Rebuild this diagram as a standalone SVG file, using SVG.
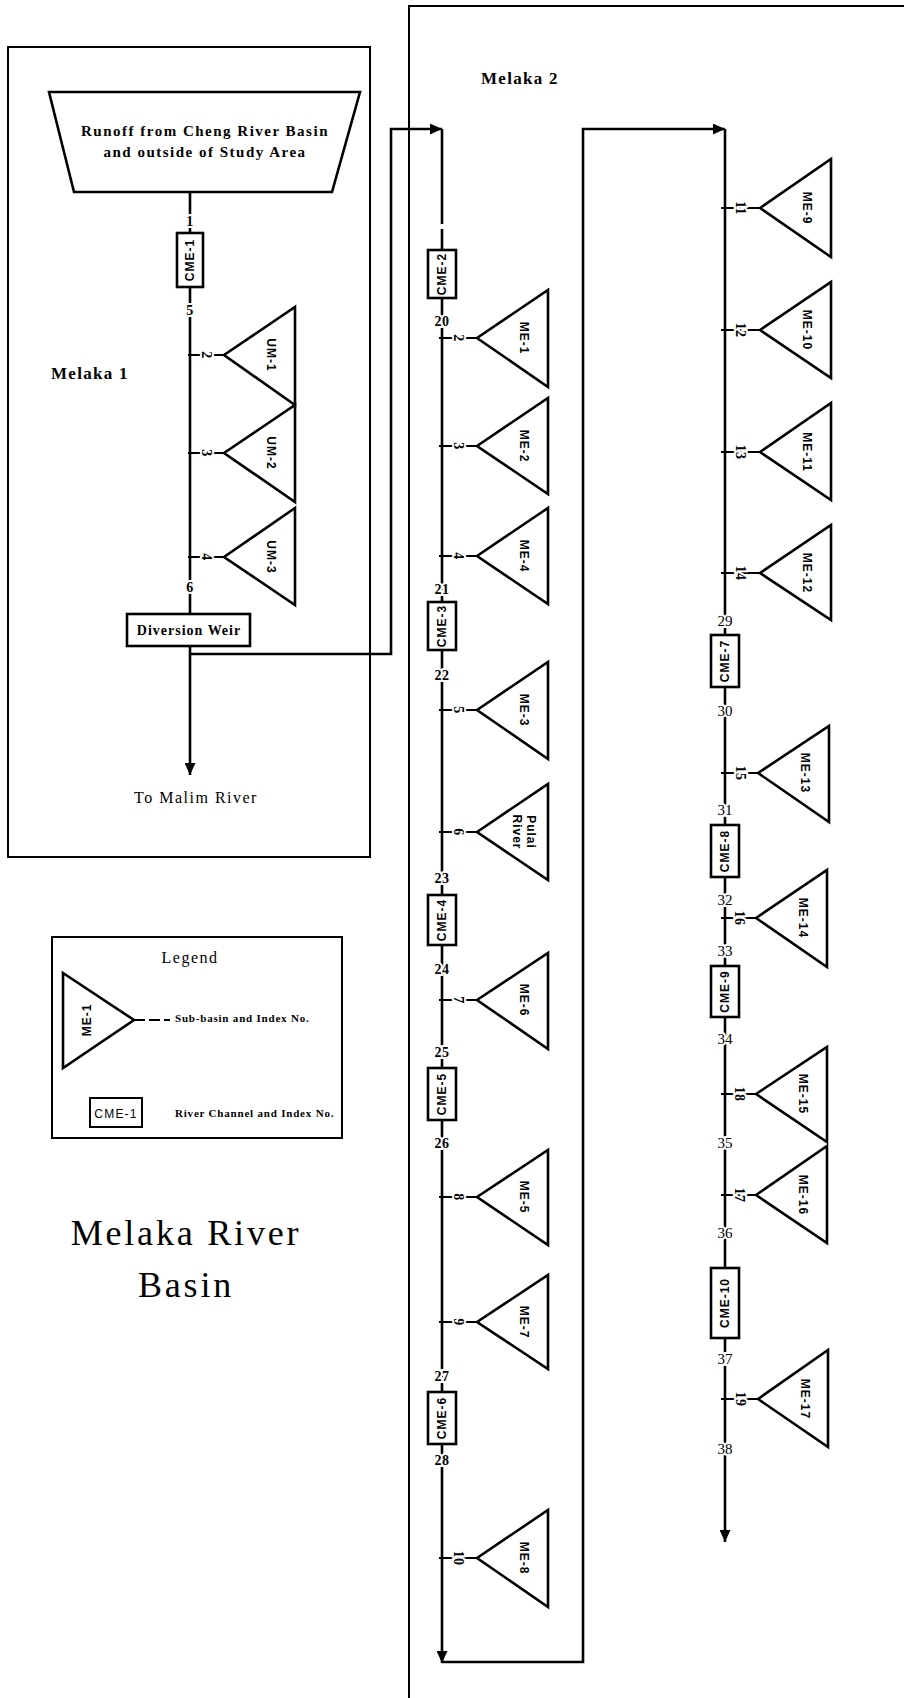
<svg xmlns="http://www.w3.org/2000/svg" width="904" height="1698" viewBox="0 0 904 1698">
<defs>
<style>
.frame{fill:none;stroke:#000;stroke-width:2}
.river{fill:none;stroke:#000;stroke-width:2.6}
.stub{fill:none;stroke:#000;stroke-width:2.2}
.tri{fill:#fff;stroke:#000;stroke-width:2.6;stroke-linejoin:miter}
.cme{fill:#fff;stroke:#000;stroke-width:2.6}
.lbl{font-family:"Liberation Sans",Arial,sans-serif;font-weight:bold;font-size:12px;letter-spacing:1px;text-anchor:middle;dominant-baseline:central;fill:#000}
.idx{font-family:"Liberation Serif","Times New Roman",serif;font-weight:bold;font-size:14px;letter-spacing:0.5px;text-anchor:middle;dominant-baseline:central;fill:#000;stroke:#fff;stroke-width:4;paint-order:stroke}
.nodeb{font-family:"Liberation Serif","Times New Roman",serif;font-weight:bold;font-size:14px;letter-spacing:0.5px;text-anchor:middle;dominant-baseline:central;fill:#000;stroke:#fff;stroke-width:4;paint-order:stroke}
.noder{font-family:"Liberation Serif","Times New Roman",serif;font-size:15px;text-anchor:middle;dominant-baseline:central;fill:#000;stroke:#fff;stroke-width:4;paint-order:stroke}
.title{font-family:"Liberation Serif","Times New Roman",serif;font-weight:bold;font-size:17px;letter-spacing:1.3px;fill:#000}
.txtb{font-family:"Liberation Serif","Times New Roman",serif;font-weight:bold;font-size:15px;letter-spacing:1.5px;text-anchor:middle;fill:#000}
.txtr{font-family:"Liberation Serif","Times New Roman",serif;font-size:16px;letter-spacing:1.5px;text-anchor:middle;fill:#000}
.leg{font-family:"Liberation Serif","Times New Roman",serif;font-weight:bold;font-size:11px;letter-spacing:0.8px;fill:#000}
.big{font-family:"Liberation Serif","Times New Roman",serif;font-size:36px;letter-spacing:2.8px;text-anchor:middle;fill:#000}
</style>
<marker id="arr" markerWidth="12" markerHeight="11" refX="12" refY="5.5" orient="auto" markerUnits="userSpaceOnUse">
<path d="M0,0 L12,5.5 L0,11 z" fill="#000"/>
</marker>
</defs>
<rect width="904" height="1698" fill="#fff"/>

<!-- Region frames -->
<g id="melaka1-frame"><rect class="frame" x="8" y="47" width="362" height="810"/>
<text class="title" x="51" y="379">Melaka 1</text></g>
<g id="melaka2-frame"><path class="frame" d="M409,1698 V6 H904"/>
<text class="title" x="481" y="84">Melaka 2</text></g>

<!-- Connectors -->
<g id="connectors">
<path class="river" d="M190,190 V775" marker-end="url(#arr)"/>
<path class="river" d="M190,654 H391 V129 H442" marker-end="url(#arr)"/>
<path class="river" d="M442,129 V224 M442,229 V1400"/>
<path class="river" d="M442,1400 V1663" marker-end="url(#arr)"/>
<path class="river" d="M442,1662 H583 V129 H725" marker-end="url(#arr)"/>
<path class="river" d="M725,129 V1542" marker-end="url(#arr)"/>
<!-- tributary stubs Melaka 1 -->
<path class="stub" d="M188,355 H224 M188,453 H224 M188,557 H224"/>
<!-- tributary stubs Melaka 2 left -->
<path class="stub" d="M439,338 H477 M439,446 H477 M439,556 H477 M439,710 H477 M439,832 H477 M439,1000 H477 M439,1197 H477 M439,1322 H477 M439,1558 H477"/>
<!-- tributary stubs Melaka 2 right -->
<path class="stub" d="M721,208 H760 M721,330 H760 M721,452 H760 M721,573 H760 M721,773 H758 M721,918 H756 M721,1094 H756 M721,1195 H756 M721,1399 H758"/>
<!-- index numbers on stubs -->
<text class="idx" transform="translate(206,355) rotate(90)">2</text>
<text class="idx" transform="translate(206,453) rotate(90)">3</text>
<text class="idx" transform="translate(206,557) rotate(90)">4</text>
<text class="idx" transform="translate(458,338) rotate(90)">2</text>
<text class="idx" transform="translate(458,446) rotate(90)">3</text>
<text class="idx" transform="translate(458,556) rotate(90)">4</text>
<text class="idx" transform="translate(458,710) rotate(90)">5</text>
<text class="idx" transform="translate(458,832) rotate(90)">6</text>
<text class="idx" transform="translate(458,1000) rotate(90)">7</text>
<text class="idx" transform="translate(458,1197) rotate(90)">8</text>
<text class="idx" transform="translate(458,1322) rotate(90)">9</text>
<text class="idx" transform="translate(458,1558) rotate(90)">10</text>
<text class="idx" transform="translate(740,208) rotate(90)">11</text>
<text class="idx" transform="translate(740,330) rotate(90)">12</text>
<text class="idx" transform="translate(740,452) rotate(90)">13</text>
<text class="idx" transform="translate(740,573) rotate(90)">14</text>
<text class="idx" transform="translate(740,773) rotate(90)">15</text>
<text class="idx" transform="translate(739,918) rotate(90)">16</text>
<text class="idx" transform="translate(739,1094) rotate(90)">18</text>
<text class="idx" transform="translate(739,1195) rotate(90)">17</text>
<text class="idx" transform="translate(740,1399) rotate(90)">19</text>
<!-- node numbers -->
<text class="nodeb" x="190" y="221">1</text>
<text class="nodeb" x="190" y="310">5</text>
<text class="nodeb" x="190" y="587">6</text>
<text class="nodeb" x="442" y="321">20</text>
<text class="nodeb" x="442" y="589">21</text>
<text class="nodeb" x="442" y="675">22</text>
<text class="nodeb" x="442" y="878">23</text>
<text class="nodeb" x="442" y="969">24</text>
<text class="nodeb" x="442" y="1052">25</text>
<text class="nodeb" x="442" y="1143">26</text>
<text class="nodeb" x="442" y="1376">27</text>
<text class="nodeb" x="442" y="1460">28</text>
<text class="noder" x="725" y="621">29</text>
<text class="noder" x="725" y="711">30</text>
<text class="noder" x="725" y="810">31</text>
<text class="noder" x="725" y="900">32</text>
<text class="noder" x="725" y="951">33</text>
<text class="noder" x="725" y="1039">34</text>
<text class="noder" x="725" y="1143">35</text>
<text class="noder" x="725" y="1233">36</text>
<text class="noder" x="725" y="1359">37</text>
<text class="noder" x="725" y="1449">38</text>
</g>

<!-- Source -->
<g id="runoff-source">
<polygon class="tri" points="49,92 360,92 332,192 74,192"/>
<text class="txtb" x="205" y="136">Runoff from Cheng River Basin</text>
<text class="txtb" x="205" y="157">and outside of Study Area</text>
</g>

<!-- Channels -->
<g id="cme-1"><rect class="cme" x="177" y="233" width="26" height="54"/><text class="lbl" transform="translate(190,260) rotate(-90)">CME-1</text></g>
<g id="diversion-weir"><rect class="cme" x="127" y="614" width="123" height="32"/><text class="txtb" x="189" y="635" style="font-size:14px;letter-spacing:1px">Diversion Weir</text></g>
<g id="cme-2"><rect class="cme" x="428" y="250" width="28" height="48"/><text class="lbl" transform="translate(442,274) rotate(-90)">CME-2</text></g>
<g id="cme-3"><rect class="cme" x="428" y="602" width="28" height="48"/><text class="lbl" transform="translate(442,626) rotate(-90)">CME-3</text></g>
<g id="cme-4"><rect class="cme" x="428" y="895" width="28" height="50"/><text class="lbl" transform="translate(442,920) rotate(-90)">CME-4</text></g>
<g id="cme-5"><rect class="cme" x="428" y="1068" width="28" height="52"/><text class="lbl" transform="translate(442,1094) rotate(-90)">CME-5</text></g>
<g id="cme-6"><rect class="cme" x="428" y="1392" width="28" height="52"/><text class="lbl" transform="translate(442,1418) rotate(-90)">CME-6</text></g>
<g id="cme-7"><rect class="cme" x="711" y="635" width="28" height="52"/><text class="lbl" transform="translate(725,661) rotate(-90)">CME-7</text></g>
<g id="cme-8"><rect class="cme" x="711" y="825" width="28" height="52"/><text class="lbl" transform="translate(725,851) rotate(-90)">CME-8</text></g>
<g id="cme-9"><rect class="cme" x="711" y="966" width="28" height="51"/><text class="lbl" transform="translate(725,991.5) rotate(-90)">CME-9</text></g>
<g id="cme-10"><rect class="cme" x="711" y="1268" width="28" height="70"/><text class="lbl" transform="translate(725,1303) rotate(-90)">CME-10</text></g>

<!-- Sub-basins Melaka 1 -->
<g id="um-1"><polygon class="tri" points="224,355 295,307 295,405"/><text class="lbl" transform="translate(271,355) rotate(90)">UM-1</text></g>
<g id="um-2"><polygon class="tri" points="224,453 295,405 295,502"/><text class="lbl" transform="translate(271,453) rotate(90)">UM-2</text></g>
<g id="um-3"><polygon class="tri" points="224,557 295,508 295,605"/><text class="lbl" transform="translate(271,557) rotate(90)">UM-3</text></g>

<!-- Sub-basins Melaka 2 left -->
<g id="me-1"><polygon class="tri" points="477,338 548,290 548,387"/><text class="lbl" transform="translate(524,338) rotate(90)">ME-1</text></g>
<g id="me-2"><polygon class="tri" points="477,446 548,398 548,494"/><text class="lbl" transform="translate(524,446) rotate(90)">ME-2</text></g>
<g id="me-4"><polygon class="tri" points="477,556 548,508 548,604"/><text class="lbl" transform="translate(524,556) rotate(90)">ME-4</text></g>
<g id="me-3"><polygon class="tri" points="477,710 548,662 548,759"/><text class="lbl" transform="translate(524,710) rotate(90)">ME-3</text></g>
<g id="pulai-river"><polygon class="tri" points="477,832 548,784 548,880"/><text class="lbl" transform="translate(531,832) rotate(90)">Pulai</text><text class="lbl" transform="translate(517,832) rotate(90)">River</text></g>
<g id="me-6"><polygon class="tri" points="477,1000 548,953 548,1049"/><text class="lbl" transform="translate(524,1000) rotate(90)">ME-6</text></g>
<g id="me-5"><polygon class="tri" points="477,1197 548,1150 548,1245"/><text class="lbl" transform="translate(524,1197) rotate(90)">ME-5</text></g>
<g id="me-7"><polygon class="tri" points="477,1322 548,1275 548,1369"/><text class="lbl" transform="translate(524,1322) rotate(90)">ME-7</text></g>
<g id="me-8"><polygon class="tri" points="477,1558 548,1510 548,1607"/><text class="lbl" transform="translate(524,1558) rotate(90)">ME-8</text></g>

<!-- Sub-basins Melaka 2 right -->
<g id="me-9"><polygon class="tri" points="760,208 831,159 831,257"/><text class="lbl" transform="translate(807,208) rotate(90)">ME-9</text></g>
<g id="me-10"><polygon class="tri" points="760,330 831,282 831,378"/><text class="lbl" transform="translate(807,330) rotate(90)">ME-10</text></g>
<g id="me-11"><polygon class="tri" points="760,452 831,403 831,500"/><text class="lbl" transform="translate(807,452) rotate(90)">ME-11</text></g>
<g id="me-12"><polygon class="tri" points="760,573 831,525 831,620"/><text class="lbl" transform="translate(807,573) rotate(90)">ME-12</text></g>
<g id="me-13"><polygon class="tri" points="758,773 829,726 829,822"/><text class="lbl" transform="translate(805,773) rotate(90)">ME-13</text></g>
<g id="me-14"><polygon class="tri" points="756,918 827,870 827,967"/><text class="lbl" transform="translate(803,918) rotate(90)">ME-14</text></g>
<g id="me-15"><polygon class="tri" points="756,1094 827,1047 827,1142"/><text class="lbl" transform="translate(803,1094) rotate(90)">ME-15</text></g>
<g id="me-16"><polygon class="tri" points="756,1195 827,1146 827,1243"/><text class="lbl" transform="translate(803,1195) rotate(90)">ME-16</text></g>
<g id="me-17"><polygon class="tri" points="758,1399 828,1350 828,1447"/><text class="lbl" transform="translate(805,1399) rotate(90)">ME-17</text></g>

<!-- Outlet -->
<g id="to-malim"><text class="txtr" x="196" y="803">To Malim River</text></g>

<!-- Legend -->
<g id="legend">
<rect class="frame" x="52" y="937" width="290" height="201"/>
<text class="txtr" x="190" y="963" style="letter-spacing:1.5px">Legend</text>
<polygon class="tri" points="63,973 134,1020 63,1068"/>
<text class="lbl" transform="translate(87,1020) rotate(-90)">ME-1</text>
<path d="M134,1020 H170" stroke="#000" stroke-width="2" stroke-dasharray="11,4"/>
<text class="leg" x="175" y="1022">Sub-basin and Index No.</text>
<rect class="cme" x="90" y="1098" width="52" height="29" style="stroke-width:2"/>
<text x="116" y="1118" style="font-family:'Liberation Sans',Arial,sans-serif;font-size:12px;letter-spacing:1.2px;text-anchor:middle">CME-1</text>
<text class="leg" x="175" y="1117">River Channel and Index No.</text>
</g>

<!-- Title -->
<g id="title">
<text class="big" x="186" y="1245">Melaka River</text>
<text class="big" x="186" y="1297">Basin</text>
</g>
</svg>
